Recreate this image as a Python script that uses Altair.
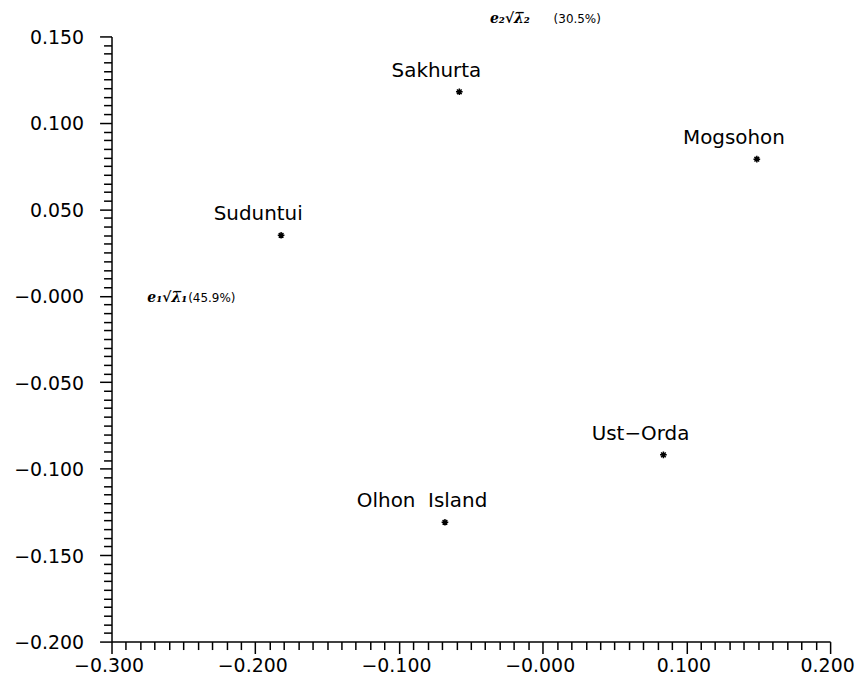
import altair as alt
import pandas as pd

# Data
sites = ["Sakhurta", "Mogsohon", "Suduntui", "Ust\u2212Orda", "Olhon\u00a0 Island"]
pc1 = [-0.058, 0.149, -0.182, 0.084, -0.068]
pc2 = [0.118, 0.079, 0.035, -0.092, -0.131]

x_domain = [-0.3, 0.2]
y_domain = [-0.2, 0.15]
x_ticks = [round(-0.3 + i * 0.01, 3) for i in range(51)]
y_ticks = [round(-0.2 + i * 0.005, 3) for i in range(71)]

axis_titles = pd.DataFrame({
    "x": [-0.3, -0.3, 0.0, 0.0],
    "y": [0.0, 0.0, 0.15, 0.15],
    "t": ["e\u2081\u221a\u03bb\u0305\u2081", "(45.9%)", "e\u2082\u221a\u03bb\u0305\u2082", "(30.5%)"],
})

df = pd.DataFrame({"site": sites, "x": pc1, "y": pc2})

FONT = "DejaVu Sans"

minus_fmt = "datum.value == 0 ? '\u22120.000' : replace(format(datum.value, '.3f'), '-', '\u2212')"

x_scale = alt.Scale(domain=x_domain, nice=False, zero=False)
y_scale = alt.Scale(domain=y_domain, nice=False, zero=False)

x_axis = alt.Axis(
    values=x_ticks, tickCount=200, title=None, grid=False,
    labelExpr="abs(datum.value*10 - round(datum.value*10)) < 0.01 ? (" + minus_fmt + ") : ''",
    labelOverlap=False, labelFlush=False, labelBound=False,
    tickSize={"condition": {"test": "abs(datum.value*10 - round(datum.value*10)) < 0.01", "value": 12}, "value": 8},
    labelPadding=3, labelOffset=-3,
    labelFont=FONT, labelFontSize=19, labelColor="black",
    domainColor="black", tickColor="black", domainWidth=1.5, tickWidth=1.5,
)
y_axis = alt.Axis(
    values=y_ticks, tickCount=200, title=None, grid=False,
    labelExpr="abs(datum.value*20 - round(datum.value*20)) < 0.01 ? (" + minus_fmt + ") : ''",
    labelOverlap=False, labelFlush=False, labelBound=False,
    tickSize={"condition": {"test": "abs(datum.value*20 - round(datum.value*20)) < 0.01", "value": 12}, "value": 8},
    labelPadding=16, labelOffset=1,
    labelFont=FONT, labelFontSize=19, labelColor="black",
    domainColor="black", tickColor="black", domainWidth=1.5, tickWidth=1.5,
)

asterisk = "M-1,0L1,0M0,-1L0,1M-0.7,-0.7L0.7,0.7M-0.7,0.7L0.7,-0.7"

points = alt.Chart(df).mark_point(
    shape=asterisk, filled=False, stroke="black", strokeWidth=1.5, size=45, opacity=1
).encode(
    x=alt.X("x:Q", scale=x_scale, axis=x_axis),
    y=alt.Y("y:Q", scale=y_scale, axis=y_axis),
)

labels = alt.Chart(df).mark_text(
    font=FONT, fontSize=20, color="black", dx=-23, dy=-21, align="center", baseline="middle"
).encode(x="x:Q", y="y:Q", text="site:N")

t1 = alt.Chart(axis_titles.iloc[[0]]).mark_text(
    font="DejaVu Serif", fontStyle="italic", fontWeight="bold", fontSize=14,
    align="left", baseline="middle", dx=36, dy=2, color="black"
).encode(x="x:Q", y="y:Q", text="t:N")
t2 = alt.Chart(axis_titles.iloc[[1]]).mark_text(
    font=FONT, fontSize=12, align="left", baseline="middle", dx=77, dy=2, color="black"
).encode(x="x:Q", y="y:Q", text="t:N")
t3 = alt.Chart(axis_titles.iloc[[2]]).mark_text(
    font="DejaVu Serif", fontStyle="italic", fontWeight="bold", fontSize=14,
    align="left", baseline="middle", dx=-53, dy=-18, color="black"
).encode(x="x:Q", y="y:Q", text="t:N")
t4 = alt.Chart(axis_titles.iloc[[3]]).mark_text(
    font=FONT, fontSize=12, align="left", baseline="middle", dx=11, dy=-18, color="black"
).encode(x="x:Q", y="y:Q", text="t:N")

chart = alt.layer(points, labels, t1, t2, t3, t4).properties(
    width=722, height=608,
    padding={"left": 104, "top": 27, "right": 25, "bottom": 32},
    autosize=alt.AutoSizeParams(type="none"),
    background="white",
).configure_view(stroke=None)

chart.save("out.html", embed_options={"renderer": "svg", "actions": False})
